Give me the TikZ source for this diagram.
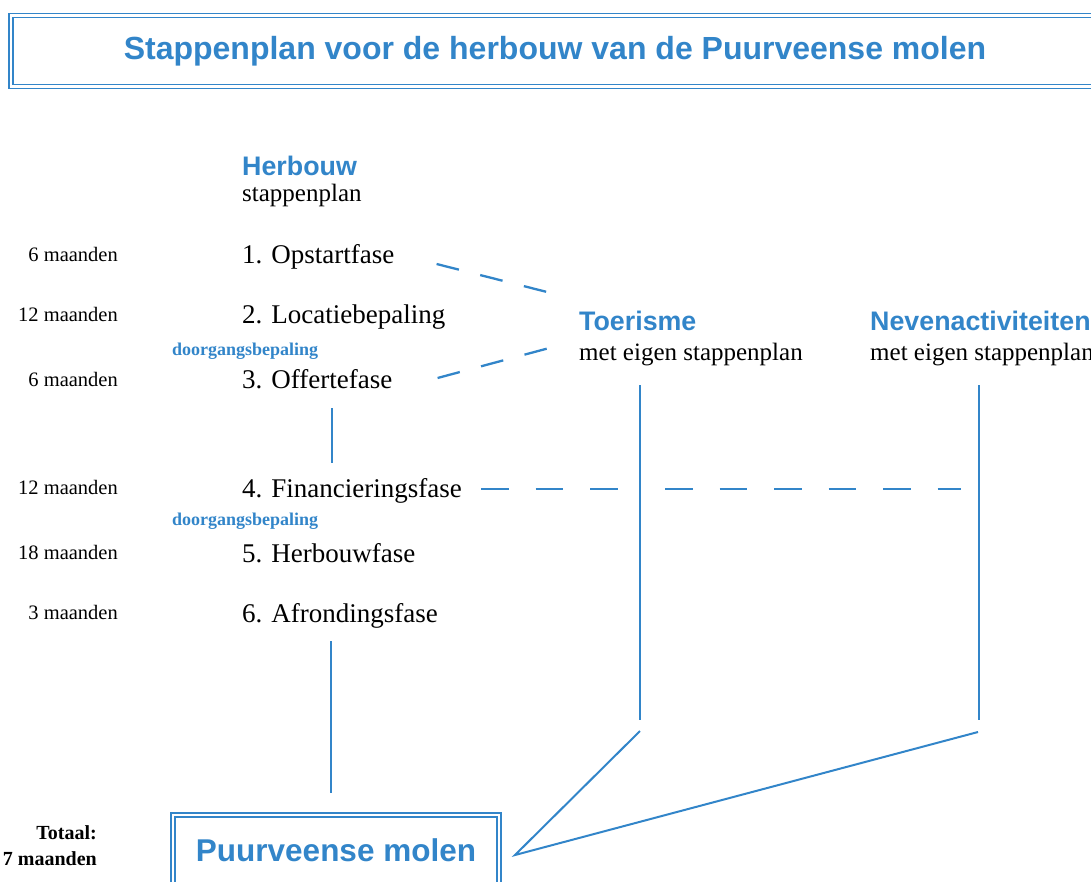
\documentclass[tikz,border=0pt]{standalone}
\usepackage{fontspec}
\setmainfont{Liberation Serif}
\setsansfont{Liberation Sans}
\definecolor{myblue}{RGB}{50,133,201}
\tikzset{
  stepnode/.style={anchor=base west, inner sep=0pt, font=\fontsize{27}{30}\selectfont},
  durnode/.style={anchor=base east, inner sep=0pt, font=\fontsize{20.5}{24}\selectfont},
  doornode/.style={anchor=base west, inner sep=0pt, text=myblue, font=\fontsize{18}{22}\selectfont\bfseries},
  headnode/.style={anchor=base west, inner sep=0pt, text=myblue, font=\fontsize{26.8}{30}\selectfont\sffamily\bfseries},
  subnode/.style={anchor=base west, inner sep=0pt, font=\fontsize{25}{28}\selectfont},
  totnode/.style={anchor=base east, inner sep=0pt, font=\fontsize{20}{24}\selectfont\bfseries},
  solidline/.style={draw=myblue, line width=2pt},
  dashline/.style={draw=myblue, line width=2.3pt, dash pattern=on 23pt off 22pt},
  longdash/.style={draw=myblue, line width=2.3pt, dash pattern=on 27.5pt off 27pt},
  framebox/.style={draw=myblue, double=white, double distance=2.6pt, line width=1.6pt},
}
\begin{document}
\begin{tikzpicture}[x=1pt,y=-1pt]
\useasboundingbox (0,0) rectangle (1091,881);

% title
\node[framebox, minimum width=1088pt, minimum height=71pt, inner sep=0pt,
      text=myblue, font=\fontsize{32}{36}\selectfont\sffamily\bfseries] (title) at (555,51)
  {Stappenplan voor de herbouw van de Puurveense molen};

% Herbouw column
\node[headnode] (herb) at (242,175) {Herbouw};
\node[subnode] (herbsub) at (242,201) {stappenplan};

\node[stepnode] (s1) at (242,263) {1. Opstartfase};
\node[stepnode] (s2) at (242,323) {2. Locatiebepaling};
\node[stepnode] (s3) at (242,388) {3. Offertefase};
\node[stepnode] (s4) at (242,497) {4. Financieringsfase};
\node[stepnode] (s5) at (242,562) {5. Herbouwfase};
\node[stepnode] (s6) at (242,622) {6. Afrondingsfase};

\node[durnode] (d1) at (118,261) {6 maanden};
\node[durnode] (d2) at (118,321) {12 maanden};
\node[durnode] (d3) at (118,386) {6 maanden};
\node[durnode] (d4) at (118,494) {12 maanden};
\node[durnode] (d5) at (118,559) {18 maanden};
\node[durnode] (d6) at (118,619) {3 maanden};

\node[doornode] (door1) at (172,355) {doorgangsbepaling};
\node[doornode] (door2) at (172,525) {doorgangsbepaling};

% side plans
\node[headnode] (toer) at (579,330) {Toerisme};
\node[subnode] (toersub) at (579,360) {met eigen stappenplan};
\node[headnode] (nev) at (870,330) {Nevenactiviteiten};
\node[subnode] (nevsub) at (870,360) {met eigen stappenplan};

% totals
\node[totnode] (tot1) at (97,839) {Totaal:};
\node[totnode] (tot2) at (97,865) {7 maanden};

% final box
\node[framebox, anchor=north, minimum width=326pt, inner xsep=0pt, inner ysep=23pt,
      text height=23.4pt, text depth=20pt, text=myblue,
      font=\fontsize{31.5}{36}\selectfont\sffamily\bfseries] (molen) at (336,814)
  {Puurveense molen};

% junction coordinates
\coordinate (colA) at (331,0);
\coordinate (colB) at (332,0);
\coordinate (tTop) at (640,385);
\coordinate (tBot) at (640,720);
\coordinate (tDiag) at (640,731);
\coordinate (nTop) at (979,385);
\coordinate (nBot) at (979,720);
\coordinate (nDiag) at (978,732);
\coordinate (mTip) at (515,855);
\coordinate (h1) at (623,489);
\coordinate (h2) at (665,489);
\coordinate (h3) at (961,489);

% dashed links to Toerisme
\draw[dashline] ([xshift=42pt,yshift=-1pt]s1.base east) -- ([xshift=-28pt,yshift=37pt]toer.base west);
\draw[dashline] ([xshift=45pt,yshift=10pt]s3.base east) -- ([xshift=-26pt,yshift=-17pt]toer.base west);

% solid step links
\draw[solidline] ([yshift=-20pt]s3.base -| colB) -- ([yshift=34pt]s4.base -| colB);
\draw[solidline] ([yshift=-19pt]s6.base -| colA) -- ([yshift=21pt]molen.north -| colA);

% long dashed line
\draw[longdash] ([xshift=19pt,yshift=8pt]s4.base east) -- (h1) (h2) -- (h3);

% verticals and diagonals
\draw[solidline] (tTop) -- (tBot);
\draw[solidline] (nTop) -- (nBot);
\draw[solidline] (tDiag) -- (mTip) -- (nDiag);
\end{tikzpicture}
\end{document}
